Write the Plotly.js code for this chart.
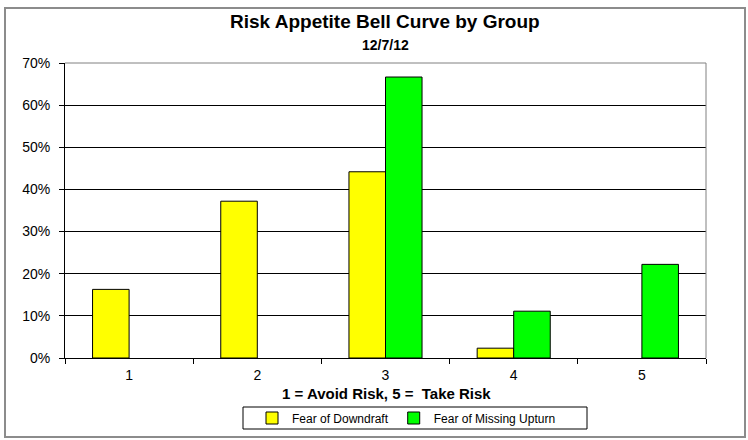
<!DOCTYPE html>
<html>
<head>
<meta charset="utf-8">
<script src="https://cdn.plot.ly/plotly-3.0.1.min.js"></script>
<style>html,body{margin:0;padding:0;background:#fff;}#chart{width:748px;height:440px;}</style>
</head>
<body>
<div id="chart"></div>
<script>
var categories = ["1", "2", "3", "4", "5"];
var downdraft = [0.1628, 0.3721, 0.4419, 0.0233, null];
var missingUpturn = [null, null, 0.6667, 0.1111, 0.2222];
var seriesNames = ["Fear of Downdraft", "Fear of Missing Upturn"];
var yTickVals = [0, 0.1, 0.2, 0.3, 0.4, 0.5, 0.6, 0.7];
var titleText = "Risk Appetite Bell Curve by Group";
var subtitleText = "12/7/12";
var xTitleText = "1 = Avoid Risk, 5 =  Take Risk";

var F = "Arial, 'Liberation Sans', sans-serif";

var traces = [
  {type: "bar", name: seriesNames[0], x: categories, y: downdraft,
   marker: {color: "#FFFF00", line: {color: "#000", width: 1}}},
  {type: "bar", name: seriesNames[1], x: categories, y: missingUpturn,
   marker: {color: "#00FF00", line: {color: "#000", width: 1}}}
];

var L = 65, R = 706, T = 63, B = 358, W = 748, H = 440;
function px(x){ return (x - L) / (R - L); }
function py(y){ return (B - y) / (B - T); }

var layout = {
  width: W, height: H,
  margin: {l: L, r: W - R, t: T, b: H - B, pad: 0, autoexpand: false},
  paper_bgcolor: "#fff", plot_bgcolor: "#fff",
  font: {family: F, color: "#000", size: 14},
  barmode: "group", bargap: 0.43, bargroupgap: 0,
  xaxis: {
    type: "category", tickson: "boundaries", ticks: "outside", ticklen: 5,
    tickcolor: "#000", showline: true, linecolor: "#000", linewidth: 1,
    showgrid: false, tickfont: {size: 14, family: F}, automargin: false,
    ticklabelstandoff: 4
  },
  yaxis: {
    range: [0, 0.7], tickvals: yTickVals, tickformat: ".0%",
    ticks: "outside", ticklen: 5, tickcolor: "#000",
    showline: true, linecolor: "#000", linewidth: 1,
    showgrid: true, gridcolor: "#000", gridwidth: 1, zeroline: false,
    tickfont: {size: 14, family: F}, automargin: false,
    ticklabelstandoff: 6
  },
  annotations: [
    {text: "<b>" + titleText + "</b>", xref: "paper", yref: "paper", x: px(385), y: py(22),
     xanchor: "center", yanchor: "middle", showarrow: false, font: {size: 19, family: F}},
    {text: "<b>" + subtitleText + "</b>", xref: "paper", yref: "paper", x: px(385), y: py(45),
     xanchor: "center", yanchor: "middle", showarrow: false, font: {size: 14, family: F}},
    {text: "<b>" + xTitleText + "</b>", xref: "paper", yref: "paper", x: px(387), y: py(393),
     xanchor: "center", yanchor: "middle", showarrow: false, font: {size: 15, family: F}}
  ],
  showlegend: true,
  legend: {
    orientation: "h", xref: "paper", x: px(252), xanchor: "left",
    yref: "container", y: (H - 418) / H, yanchor: "middle",
    font: {size: 12, family: F}, bgcolor: "rgba(0,0,0,0)", borderwidth: 0,
    traceorder: "normal", itemwidth: 30
  },
  shapes: [
    {type: "rect", xref: "paper", yref: "paper", x0: px(243), x1: px(587), y0: py(407), y1: py(429),
     line: {color: "#000", width: 1}, fillcolor: "rgba(0,0,0,0)", layer: "below"},
    {type: "line", xref: "paper", yref: "paper", x0: 0, x1: 1, y0: 1, y1: 1, line: {color: "#808080", width: 1}},
    {type: "line", xref: "paper", yref: "paper", x0: 1, x1: 1, y0: 0, y1: 1, line: {color: "#808080", width: 1}},
    {type: "rect", xref: "paper", yref: "paper", x0: px(5), x1: px(745), y0: py(437), y1: py(8),
     line: {color: "#8c8c8c", width: 2}, fillcolor: "rgba(0,0,0,0)", layer: "below"}
  ]
};

Plotly.newPlot("chart", traces, layout, {staticPlot: true, displayModeBar: false});
</script>
</body>
</html>
